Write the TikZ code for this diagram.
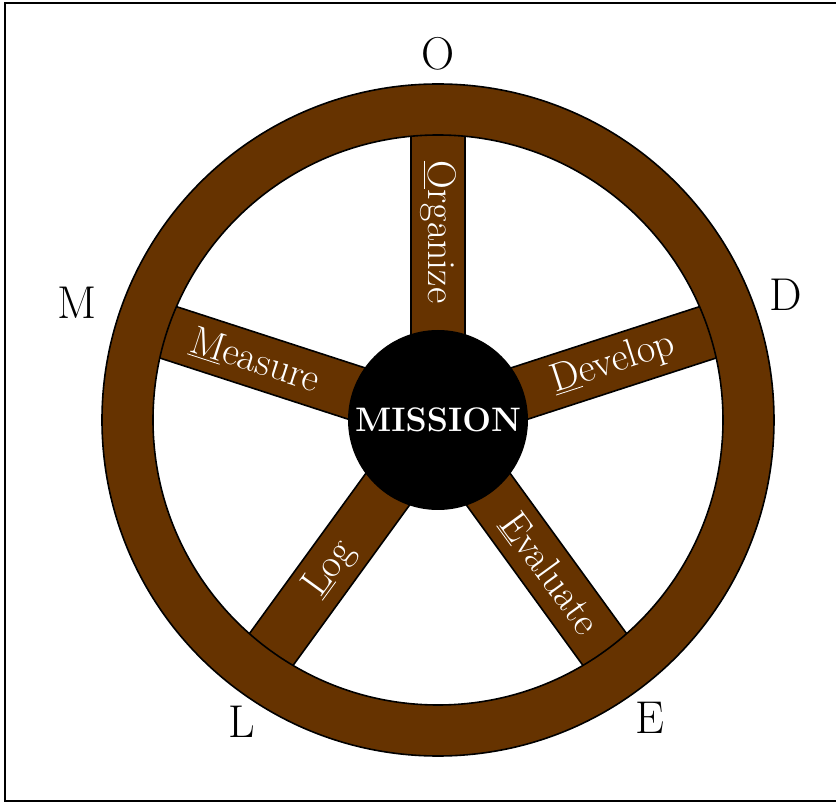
\documentclass[tikz,border=0pt]{standalone}
\definecolor{wheelbrown}{RGB}{102,51,0}

\begin{document}
\begin{tikzpicture}[
    x=0.5pt, y=0.5pt,
    spoke/.style={draw, fill=wheelbrown, line width=0.8pt},
    rim/.style={draw, fill=wheelbrown, line width=0.8pt, even odd rule},
    hub/.style={
      circle, fill=black, minimum size=90pt, inner sep=0pt,
      text=white, font=\fontsize{17}{20}\selectfont\bfseries
    },
    word/.style={text=white, inner sep=0pt, font=\fontsize{20}{24}\selectfont},
    letter/.style={font=\fontsize{23}{27}\selectfont}
]

% Page and frame
\useasboundingbox (-438,-383) rectangle (398,420);
\draw[line width=1pt] (398,417) -- (-433,417) -- (-433,-381) -- (398,-381);

% Spokes
\draw[spoke, rotate=90] (0,-27) rectangle (310,27);
\draw[spoke, rotate=18] (0,-27) rectangle (310,27);
\draw[spoke, rotate=-54] (0,-27) rectangle (310,27);
\draw[spoke, rotate=234] (0,-27) rectangle (310,27);
\draw[spoke, rotate=162] (0,-27) rectangle (310,27);

% Rim
\draw[rim] (0,0) circle (336) (0,0) circle (285);

% Hub
\node[hub] (mission) at (0,0) {MISSION};

% Spoke words
\node[word, rotate=-90] (organize) at (90:188) {\underline{O}rganize};
\node[word, rotate=18] (develop) at (18:184) {\underline{D}evelop};
\node[word, rotate=-54] (evaluate) at (-54:190) {\underline{E}valuate};
\node[word, rotate=54] (log) at (234:184) {\underline{L}og};
\node[word, rotate=-18] (measure) at (162:192) {\underline{M}easure};

% Letters
\node[letter] (o) at (90:366) {O};
\node[letter] (d) at (19.8:370) {D};
\node[letter] (e) at (-54.6:366) {E};
\node[letter] (l) at (237:360) {L};
\node[letter] (m) at (162:380) {M};

\end{tikzpicture}
\end{document}
